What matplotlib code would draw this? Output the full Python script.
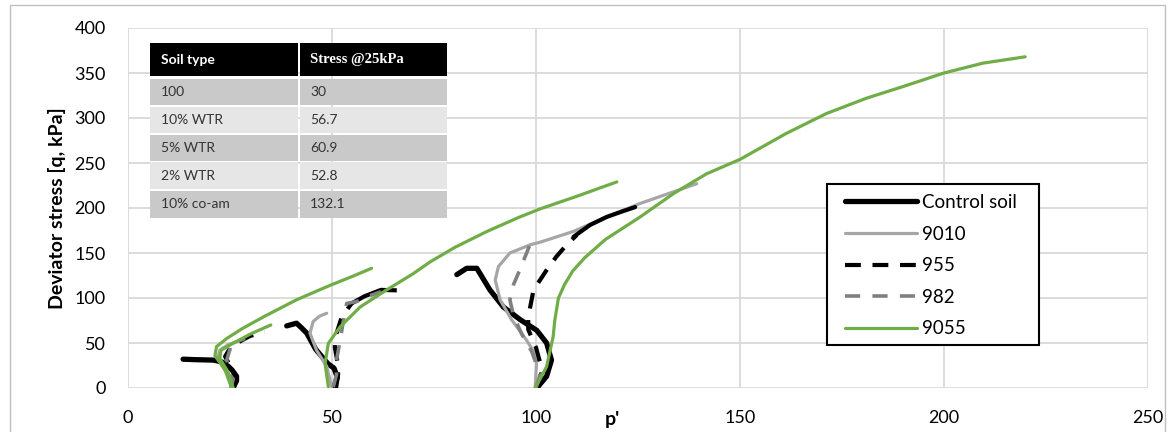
import numpy as np
import matplotlib
matplotlib.use("Agg")
import matplotlib.pyplot as plt
from matplotlib.patches import Rectangle

plt.rcParams['font.family'] = ['Lato', 'DejaVu Sans']

nan = np.nan

# ---------------- data (p', q) ----------------
control_p = [25.8, 26.6, 26.6, 25.5, 24.6, 23.0, 20.9, 16.4, 13.5, nan,
             50.5, 51.3, 50.5, 49.0, 46.0, 43.8, 42.5, 41.3, 38.9, nan,
             100.2, 102.6, 103.8, 102.6, 100.2, 96.1, 92.0, 88.7, 85.5, 83.0, 80.6]
control_q = [0.5, 8, 13, 20, 24, 29, 31, 31.5, 32, nan,
             1, 12, 22, 27, 43, 61, 67, 72, 69, nan,
             0, 13, 31, 50, 64, 76, 90, 109, 133, 133, 126]

s9010_p = [25.3, 24.8, 23.2, 22.0, 22.5, 24.5, 27.5, nan,
           49.9, 48.7, 46.2, 44.6, 45.4, 47.0, 48.7, nan,
           99.8, 100.2, 97.7, 94.0, 91.2, 90.0, 90.8, 93.6, 98.5, 101.0, 109.2, 117.3, 125.5, 133.7, 139.4]
s9010_q = [0, 12, 24, 34, 42, 48, 53, nan,
           1.5, 24, 42, 61, 74, 80, 83, nan,
           0, 35, 53, 76, 98, 120, 135, 150, 159, 162, 174, 190, 205, 218, 227]

s955_p = [25.5, 26.3, 25.0, 23.8, 25.0, 27.5, 30.0, 33.5, nan,
          51.0, 51.5, 51.3, 50.7, 50.7, 52.4, 54.8, nan,
          62.0, 66.0, nan,
          100.5, 101.5, 100.0, 98.1, 98.1, 99.4, 102.6, 105.0, 107.5, 110.0]
s955_q = [0, 12, 25, 35, 44, 52, 58, 62, nan,
          0, 15, 30, 45, 55, 79, 94, nan,
          109, 108.5, nan,
          0, 20, 45, 65, 79, 109, 131, 146, 159, 170]
# dense (solid-looking) stretches of the 955 paths
s955_dense_p = [54.8, 58.0, 62.0, nan, 109.2, 113.2, 117.3, 121.0, 124.3]
s955_dense_q = [94, 102, 109, nan, 168, 181, 190, 196, 201]

s982_p = [25.2, 25.8, 25.0, 24.2, 25.4, 28.7, nan,
          50.3, 51.1, 51.1, 52.0, 52.8, 53.6, 56.0, 59.0, 62.0, nan,
          100.0, 101.0, 99.0, 96.5, 94.5, 93.6, 94.5, 96.0, 98.5, 101.0]
s982_q = [0, 10, 14, 31, 49.6, 55, nan,
          1, 15, 31, 53, 75, 94, 96, 102, 107, nan,
          0, 15, 40, 60, 80, 98, 115, 131, 159, 160]

s9055_p = [25.4, 23.8, 21.3, 21.7, 24.2, 28.0, 33.2, 41.3, 49.5, 55.0, 59.7, nan,
           25.8, 24.5, 22.5, 22.8, 25.5, 30.0, 35.0, nan,
           49.1, 48.3, 49.1, 52.0, 56.9, 63.4, 69.9, 74.0, 80.0, 88.0, 96.0, 101.0, 110.0, 119.8, nan,
           99.8, 102.6, 104.2, 104.6, 105.5, 107.0, 109.0, 112.0, 117.0, 125.5, 133.7, 141.8, 150.0,
           161.4, 171.2, 181.0, 190.0, 200.0, 209.6, 219.9]
s9055_q = [0, 20, 36, 46, 55, 66, 79, 98, 114, 124, 133, nan,
           0, 18, 33, 42, 49, 60, 70, nan,
           1.5, 27, 49.6, 68, 90, 109, 127, 140, 156, 174, 190, 199, 213, 229, nan,
           0, 23.7, 57, 75, 100, 115, 130, 145, 165, 190, 216, 238, 254,
           283, 305, 322, 335, 350, 361, 368]

table_header = ["Soil type", "Stress @25kPa"]
table_soil = ["100", "10% WTR", "5% WTR", "2% WTR", "10% co-am"]
table_stress = ["30", "56.7", "60.9", "52.8", "132.1"]

x_ticks = [0, 50, 100, 150, 200, 250]
y_ticks = [0, 50, 100, 150, 200, 250, 300, 350, 400]

# ---------------- figure ----------------
W, H = 1172, 432
fig = plt.figure(figsize=(W / 100, H / 100), dpi=100)
L, R, T, B = 128, 1148, 28, 388
ax = fig.add_axes([L / W, 1 - B / H, (R - L) / W, (B - T) / H])

def fx(px):
    return px / W

def fy(py):
    return 1 - py / H

# outer frame
fig.add_artist(Rectangle((fx(10), fy(440)), fx(1165) - fx(10), fy(5) - fy(440),
                         transform=fig.transFigure, fill=False, edgecolor='#bfbfbf', lw=1.0))

ax.set_xlim(0, 250)
ax.set_ylim(0, 400)
ax.set_xticks(x_ticks)
ax.set_yticks(y_ticks)
ax.grid(True, color='#d9d9d9', lw=1.3)
ax.set_axisbelow(True)
for s in ax.spines.values():
    s.set_visible(False)
ax.tick_params(length=0, labelsize=13, colors='black')
ax.tick_params(axis='y', pad=16)
ax.tick_params(axis='x', pad=16)

ax.set_ylabel("Deviator stress [q, kPa]", fontsize=14, fontweight='bold', labelpad=6)
fig.text(fx(612), fy(419), "p'", fontsize=14, fontweight='bold', ha='center', va='center')

# series
common = dict(solid_joinstyle='round', solid_capstyle='round')
ax.plot(control_p, control_q, color='black', lw=3.8, label='Control soil', zorder=3, **common)
ax.plot(s9010_p, s9010_q, color='#a6a6a6', lw=2.3, label='9010', zorder=4, **common)
ax.plot(s955_p, s955_q, color='black', lw=3.0, dashes=(3.8, 2.8), label='955', zorder=5,
        dash_joinstyle='round')
ax.plot(s955_dense_p, s955_dense_q, color='black', lw=3.0, zorder=5, **common)
ax.plot(s982_p, s982_q, color='#808080', lw=2.6, dashes=(4.2, 3.4), label='982', zorder=6,
        dash_joinstyle='round')
ax.plot(s9055_p, s9055_q, color='#70ad47', lw=2.3, label='9055', zorder=7, **common)

# legend (manual frame drawn inside the axes so the legend sits above it)
legbox = Rectangle((fx(827), fy(345)), fx(1039) - fx(827), fy(184) - fy(345),
                   transform=fig.transFigure, facecolor='white', edgecolor='black',
                   lw=1.5, zorder=19, clip_on=False)
ax.add_artist(legbox)
leg = ax.legend(loc='upper left', bbox_to_anchor=(fx(845), fy(194)), bbox_transform=fig.transFigure,
                borderaxespad=0, borderpad=0, frameon=False,
                fontsize=13.5, handlelength=3.85, handletextpad=0.27, labelspacing=0.78)
leg.set_zorder(20)

# inset table
col_x = [(150, 298), (300, 447)]
rows_y = [(43, 76), (79, 105), (107, 133), (135, 161), (162, 189), (191, 218)]
row_colors = ['black', '#c9c9c9', '#e6e6e6', '#c9c9c9', '#e6e6e6', '#c9c9c9']
for i, (y0, y1) in enumerate(rows_y):
    for (x0, x1) in col_x:
        fig.add_artist(Rectangle((fx(x0), fy(y1)), fx(x1) - fx(x0), fy(y0) - fy(y1),
                                 transform=fig.transFigure, facecolor=row_colors[i],
                                 edgecolor='none', zorder=10))
# header
yc = fy((rows_y[0][0] + rows_y[0][1]) / 2)
fig.text(fx(161), yc, table_header[0], color='white', fontsize=10, fontweight='bold',
         va='center', ha='left', zorder=11)
fig.text(fx(310), yc, table_header[1], color='white', fontsize=10.5, fontweight='bold',
         family=['Liberation Serif', 'DejaVu Serif'], va='center', ha='left', zorder=11)
for i in range(len(table_soil)):
    y0, y1 = rows_y[i + 1]
    yc = fy((y0 + y1) / 2)
    fig.text(fx(161), yc, table_soil[i], color='#333333', fontsize=10, va='center', ha='left', zorder=11)
    fig.text(fx(310), yc, table_stress[i], color='#333333', fontsize=10, va='center', ha='left', zorder=11)

fig.savefig('out.png', dpi=100)
